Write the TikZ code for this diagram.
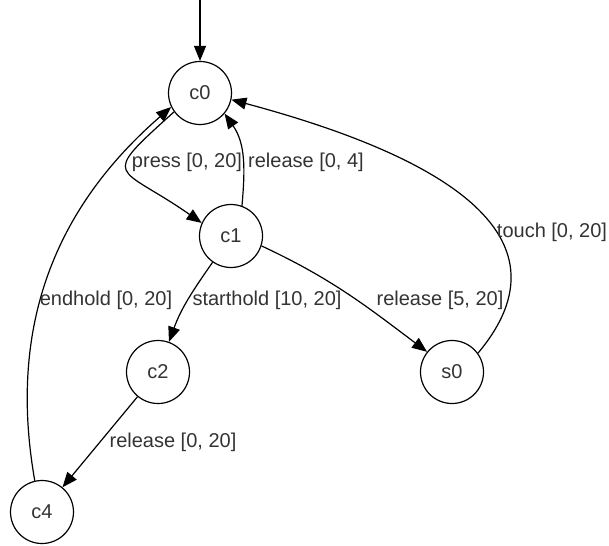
\documentclass[tikz,border=0pt]{standalone}
\usepackage{fontspec}
\setmainfont{Liberation Sans}
\usetikzlibrary{arrows.meta}

\begin{document}
\begin{tikzpicture}[%
    x=1pt, y=1pt,
    font=\fontsize{20}{23}\selectfont,
    line width=1.2pt,
    >={Triangle[length=15pt,width=12pt]},
    statenode/.style={
        draw,
        circle,
        minimum size=63pt,
        inner sep=0pt,
        text=black!80
        },
    edgelabel/.style={
        inner sep=0pt,
        text=black!80
        }
]

\useasboundingbox (0,0) rectangle (609,-545);

% states
\node[statenode] (c0) at (200,-93) {c0};
\node[statenode] (c1) at (231,-236) {c1};
\node[statenode] (c2) at (158,-372) {c2};
\node[statenode] (s0) at (452,-372) {s0};
\node[statenode] (c4) at (42,-512) {c4};
\coordinate (init) at (200,0);

% transitions
\draw[->] (init) -- (c0);
\draw[->] (c0.216) to[out=222, in=145, looseness=2.3] (c1.156);
\draw[->] (c1.70) to[out=85, in=-55] (c0.-40);
\draw[->] (c1.235) to[out=235, in=70] (c2.70);
\draw[->] (c1.-18) to[out=-25, in=143] (s0.141);
\draw[->] (s0.36) to[out=50, in=-15, looseness=1.25] (c0.-12);
\draw[->] (c4.103) to[out=100, in=221] (c0.206);
\draw[->] (c2) -- (c4);

% labels
\node[edgelabel] (lpress) at (187,-162) {press [0, 20]};
\node[edgelabel] (lrel04) at (306,-162) {release [0, 4]};
\node[edgelabel] (lend) at (106,-300) {endhold [0, 20]};
\node[edgelabel] (lstart) at (267,-300) {starthold [10, 20]};
\node[edgelabel] (lrel520) at (440,-300) {release [5, 20]};
\node[edgelabel] (ltouch) at (552,-232) {touch [0, 20]};
\node[edgelabel] (lrel020) at (173,-442) {release [0, 20]};

\end{tikzpicture}
\end{document}
